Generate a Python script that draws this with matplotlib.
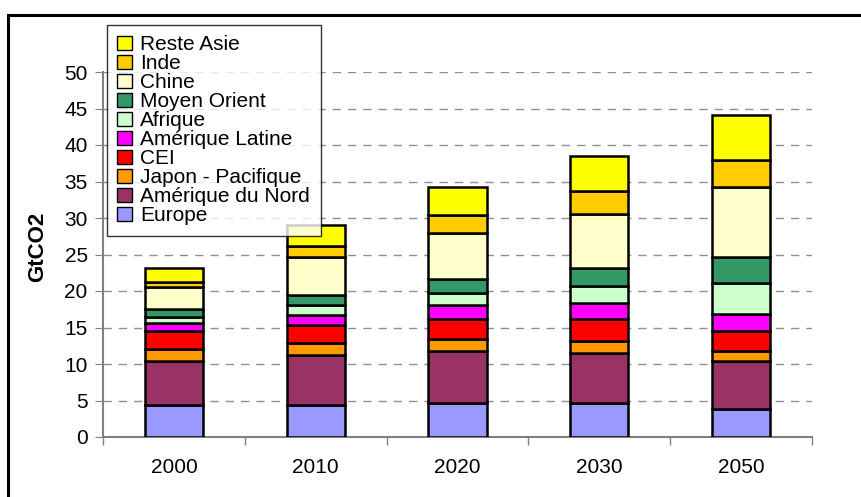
import numpy as np
import matplotlib
matplotlib.use("Agg")
from matplotlib import pyplot as plt
from matplotlib.patches import Rectangle

# Data (GtCO2)
years = ["2000", "2010", "2020", "2030", "2050"]
regions = ["Europe", "Amérique du Nord", "Japon - Pacifique", "CEI",
           "Amérique Latine", "Afrique", "Moyen Orient", "Chine", "Inde",
           "Reste Asie"]
europe = [4.4, 4.4, 4.7, 4.7, 3.8]
am_nord = [6.0, 6.8, 7.1, 6.85, 6.6]
japon = [1.65, 1.7, 1.6, 1.6, 1.4]
cei = [2.45, 2.5, 2.7, 3.0, 2.7]
am_latine = [1.1, 1.3, 2.0, 2.2, 2.4]
afrique = [0.8, 1.4, 1.6, 2.4, 4.15]
moyen_orient = [1.1, 1.35, 1.9, 2.4, 3.6]
chine = [3.0, 5.15, 6.3, 7.4, 9.55]
inde = [0.8, 1.6, 2.5, 3.2, 3.8]
reste_asie = [1.9, 2.8, 3.9, 4.7, 6.1]

series = [europe, am_nord, japon, cei, am_latine, afrique, moyen_orient,
          chine, inde, reste_asie]
colors = ["#9999ff", "#993366", "#ff9900", "#ff0000", "#ff00ff",
          "#ccffcc", "#339966", "#ffffcc", "#ffcc00", "#ffff00"]

W, H = 862, 497
fig = plt.figure(figsize=(W / 100, H / 100), dpi=100)
plt.rcParams['font.family'] = ['Liberation Sans', 'DejaVu Sans']

# outer frame of the chart object
fig.patches.append(Rectangle((8 / W, -0.1), 1.2, 1 - 15 / H + 0.1,
                             transform=fig.transFigure, fill=False,
                             edgecolor="black", linewidth=2.2))

ax = fig.add_axes([103 / W, 1 - 437 / H, (812 - 103) / W, (437 - 72) / H])

x = np.arange(len(years))
bottom = np.zeros(len(years))
handles = []
for vals, c, name in zip(series, colors, regions):
    b = ax.bar(x, vals, bottom=bottom, width=0.41, color=c,
               edgecolor="black", linewidth=1.8, label=name, zorder=3)
    handles.append(b)
    bottom += np.array(vals)

ax.set_xlim(-0.5, len(years) - 0.5)
ax.set_ylim(0, 50)
ax.set_yticks(np.arange(0, 51, 5))
ax.set_xticks(x)
ax.set_xticklabels(years)
ax.set_xticks(np.arange(-0.5, len(years), 1), minor=True)
ax.tick_params(axis="x", which="major", length=0, pad=15, labelsize=15)
ax.tick_params(axis="x", which="minor", length=6, color="#808080", width=1)
ax.tick_params(axis="y", length=6, color="#808080", labelsize=15, pad=5)
ax.yaxis.grid(True, linestyle=(0, (6, 5)), color="#909090", linewidth=1)
ax.set_axisbelow(True)
for s in ["top", "right"]:
    ax.spines[s].set_visible(False)
for s in ["left", "bottom"]:
    ax.spines[s].set_color("#808080")
    ax.spines[s].set_linewidth(1.5)

fig.text(38 / W, 1 - 247 / H, "GtCO2", rotation=90, fontsize=16,
         fontweight="bold", ha="center", va="center")

leg = fig.legend(handles[::-1], regions[::-1],
                 loc="upper left", bbox_to_anchor=(107 / W, 1 - 25 / H),
                 fontsize=15, frameon=True, fancybox=False,
                 edgecolor="black", handlelength=0.7, handleheight=0.7,
                 handletextpad=0.4, labelspacing=0.0, borderpad=0.5,
                 borderaxespad=0)
leg.get_frame().set_linewidth(1)
for p in leg.get_patches():
    p.set_linewidth(1)

fig.savefig("out.png", dpi=100)
